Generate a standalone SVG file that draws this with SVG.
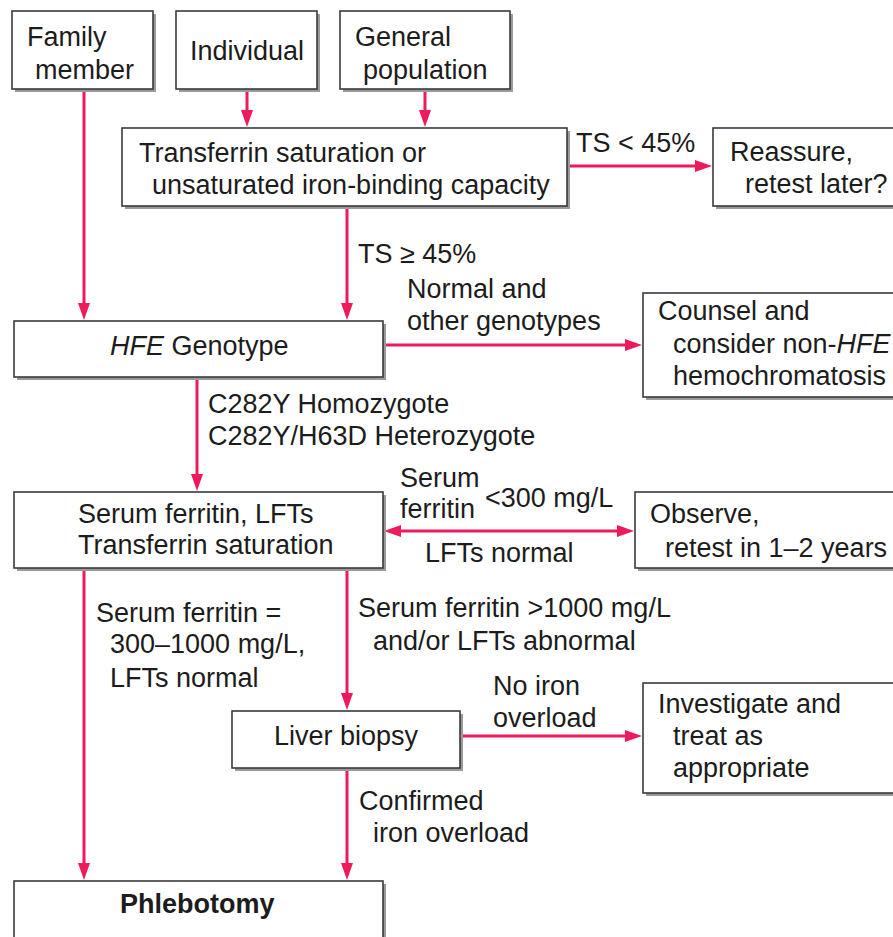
<svg xmlns="http://www.w3.org/2000/svg" width="893" height="937" viewBox="0 0 893 937">
<style>
.bx{fill:#fff;stroke:#3a3a3a;stroke-width:1.6}
.sh{fill:#9a9a9a}
.t{font-family:"Liberation Sans",Arial,Helvetica,sans-serif;font-size:27px;fill:#1c1c1c}
.b{font-weight:bold}
.i{font-style:italic}
.c{fill:none;stroke:#ee1a5b;stroke-width:3}
</style>
<defs>
<marker id="ah" markerUnits="userSpaceOnUse" markerWidth="17" markerHeight="13" refX="9" refY="6.5" orient="auto-start-reverse" viewBox="0 0 17 13">
<path d="M0,0.5 L17,6.5 L0,12.5 z" fill="#ee1a5b"/>
</marker>
</defs>
<rect width="893" height="937" fill="#fff"/>

<g id="connectors">
<line class="c" x1="247" y1="89" x2="247" y2="119" marker-end="url(#ah)"/>
<line class="c" x1="425" y1="89" x2="425" y2="119" marker-end="url(#ah)"/>
<line class="c" x1="567" y1="166" x2="704" y2="166" marker-end="url(#ah)"/>
<line class="c" x1="84" y1="89" x2="84" y2="312" marker-end="url(#ah)"/>
<line class="c" x1="347" y1="206" x2="347" y2="312" marker-end="url(#ah)"/>
<line class="c" x1="383" y1="345" x2="634" y2="345" marker-end="url(#ah)"/>
<line class="c" x1="197" y1="377" x2="197" y2="483" marker-end="url(#ah)"/>
<line class="c" x1="392" y1="531" x2="626" y2="531" marker-start="url(#ah)" marker-end="url(#ah)"/>
<line class="c" x1="84" y1="568" x2="84" y2="872" marker-end="url(#ah)"/>
<line class="c" x1="347" y1="568" x2="347" y2="702" marker-end="url(#ah)"/>
<line class="c" x1="460" y1="736" x2="634" y2="736" marker-end="url(#ah)"/>
<line class="c" x1="347" y1="768" x2="347" y2="872" marker-end="url(#ah)"/>
</g>

<g id="family">
<rect class="sh" x="15" y="14" width="141" height="78"/>
<rect class="bx" x="12" y="11" width="141" height="78"/>
<text class="t" x="27" y="46">Family</text>
<text class="t" x="35" y="79">member</text>
</g>
<g id="individual">
<rect class="sh" x="179" y="14" width="141" height="78"/>
<rect class="bx" x="176" y="11" width="141" height="78"/>
<text class="t" x="190" y="60">Individual</text>
</g>
<g id="general">
<rect class="sh" x="343" y="14" width="170" height="78"/>
<rect class="bx" x="340" y="11" width="170" height="78"/>
<text class="t" x="355" y="46">General</text>
<text class="t" x="363" y="79">population</text>
</g>
<g id="transferrin">
<rect class="sh" x="125" y="131" width="445" height="78"/>
<rect class="bx" x="122" y="128" width="445" height="78"/>
<text class="t" x="139" y="162">Transferrin saturation or</text>
<text class="t" x="152" y="194">unsaturated iron-binding capacity</text>
</g>
<g id="reassure">
<rect class="sh" x="716" y="131" width="200" height="78"/>
<rect class="bx" x="713" y="128" width="200" height="78"/>
<text class="t" x="730" y="161">Reassure,</text>
<text class="t" x="745" y="193">retest later?</text>
</g>
<g id="hfe">
<rect class="sh" x="17" y="324" width="369" height="56"/>
<rect class="bx" x="14" y="321" width="369" height="56"/>
<text class="t" x="110" y="355"><tspan class="i">HFE</tspan> Genotype</text>
</g>
<g id="counsel">
<rect class="sh" x="646" y="296" width="270" height="104"/>
<rect class="bx" x="643" y="293" width="270" height="104"/>
<text class="t" x="658" y="320">Counsel and</text>
<text class="t" x="673" y="353">consider non-<tspan class="i">HFE</tspan></text>
<text class="t" x="673" y="385">hemochromatosis</text>
</g>
<g id="serum">
<rect class="sh" x="17" y="495" width="369" height="76"/>
<rect class="bx" x="14" y="492" width="369" height="76"/>
<text class="t" x="78" y="523">Serum ferritin, LFTs</text>
<text class="t" x="78" y="554">Transferrin saturation</text>
</g>
<g id="observe">
<rect class="sh" x="638" y="495" width="270" height="76"/>
<rect class="bx" x="635" y="492" width="270" height="76"/>
<text class="t" x="650" y="523">Observe,</text>
<text class="t" x="665" y="557">retest in 1–2 years</text>
</g>
<g id="liver">
<rect class="sh" x="235" y="714" width="228" height="57"/>
<rect class="bx" x="232" y="711" width="228" height="57"/>
<text class="t" x="274" y="745">Liver biopsy</text>
</g>
<g id="investigate">
<rect class="sh" x="646" y="686" width="270" height="110"/>
<rect class="bx" x="643" y="683" width="270" height="110"/>
<text class="t" x="658" y="713">Investigate and</text>
<text class="t" x="673" y="745">treat as</text>
<text class="t" x="673" y="777">appropriate</text>
</g>
<g id="phlebotomy">
<rect class="sh" x="17" y="884" width="369" height="70"/>
<rect class="bx" x="14" y="881" width="369" height="70"/>
<text class="t b" x="120" y="913">Phlebotomy</text>
</g>

<g id="labels">
<text class="t" x="576" y="152">TS &lt; 45%</text>
<text class="t" x="358" y="263">TS ≥ 45%</text>
<text class="t" x="407" y="298">Normal and</text>
<text class="t" x="407" y="330">other genotypes</text>
<text class="t" x="208" y="413">C282Y Homozygote</text>
<text class="t" x="208" y="445">C282Y/H63D Heterozygote</text>
<text class="t" x="400" y="487">Serum</text>
<text class="t" x="400" y="518">ferritin</text>
<text class="t" x="485" y="507">&lt;300 mg/L</text>
<text class="t" x="425" y="562">LFTs normal</text>
<text class="t" x="96" y="622">Serum ferritin =</text>
<text class="t" x="110" y="653">300–1000 mg/L,</text>
<text class="t" x="110" y="687">LFTs normal</text>
<text class="t" x="358" y="617">Serum ferritin &gt;1000 mg/L</text>
<text class="t" x="373" y="650">and/or LFTs abnormal</text>
<text class="t" x="493" y="695">No iron</text>
<text class="t" x="493" y="727">overload</text>
<text class="t" x="359" y="810">Confirmed</text>
<text class="t" x="373" y="842">iron overload</text>
</g>
</svg>
